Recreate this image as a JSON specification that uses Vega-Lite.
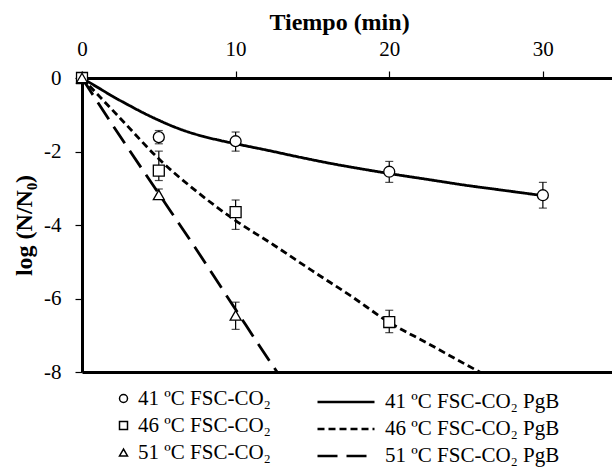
{
  "$schema": "https://vega.github.io/schema/vega-lite/v6.json",
  "width": 530,
  "height": 294,
  "autosize": {"type": "none"},
  "padding": {"left": 82, "top": 78, "right": 0, "bottom": 95},
  "background": "white",
  "config": {
    "view": {"stroke": null},
    "font": "Liberation Serif",
    "axis": {"grid": false, "domainColor": "black", "tickColor": "black", "labelColor": "black", "titleColor": "black", "labelFlush": false},
    "legend": {"padding": 0, "offset": 0}
  },
  "datasets": {
    "curves": [
      {"s": "41 ºC FSC-CO₂ PgB", "t": 0, "v": 0},
      {"s": "41 ºC FSC-CO₂ PgB", "t": 1, "v": -0.25},
      {"s": "41 ºC FSC-CO₂ PgB", "t": 2, "v": -0.5},
      {"s": "41 ºC FSC-CO₂ PgB", "t": 3, "v": -0.73},
      {"s": "41 ºC FSC-CO₂ PgB", "t": 4, "v": -0.95},
      {"s": "41 ºC FSC-CO₂ PgB", "t": 5, "v": -1.15},
      {"s": "41 ºC FSC-CO₂ PgB", "t": 6, "v": -1.33},
      {"s": "41 ºC FSC-CO₂ PgB", "t": 7, "v": -1.48},
      {"s": "41 ºC FSC-CO₂ PgB", "t": 8, "v": -1.6},
      {"s": "41 ºC FSC-CO₂ PgB", "t": 9, "v": -1.7},
      {"s": "41 ºC FSC-CO₂ PgB", "t": 10, "v": -1.79},
      {"s": "41 ºC FSC-CO₂ PgB", "t": 12, "v": -1.96},
      {"s": "41 ºC FSC-CO₂ PgB", "t": 14, "v": -2.14},
      {"s": "41 ºC FSC-CO₂ PgB", "t": 16, "v": -2.31},
      {"s": "41 ºC FSC-CO₂ PgB", "t": 18, "v": -2.46},
      {"s": "41 ºC FSC-CO₂ PgB", "t": 20, "v": -2.6},
      {"s": "41 ºC FSC-CO₂ PgB", "t": 22.5, "v": -2.76},
      {"s": "41 ºC FSC-CO₂ PgB", "t": 25, "v": -2.92},
      {"s": "41 ºC FSC-CO₂ PgB", "t": 27.5, "v": -3.06},
      {"s": "41 ºC FSC-CO₂ PgB", "t": 30, "v": -3.2},
      {"s": "46 ºC FSC-CO₂ PgB", "t": 0, "v": 0},
      {"s": "46 ºC FSC-CO₂ PgB", "t": 2.5, "v": -1.1},
      {"s": "46 ºC FSC-CO₂ PgB", "t": 5, "v": -2.2},
      {"s": "46 ºC FSC-CO₂ PgB", "t": 7.5, "v": -3.1},
      {"s": "46 ºC FSC-CO₂ PgB", "t": 10, "v": -3.88},
      {"s": "46 ºC FSC-CO₂ PgB", "t": 12.5, "v": -4.55},
      {"s": "46 ºC FSC-CO₂ PgB", "t": 15, "v": -5.25},
      {"s": "46 ºC FSC-CO₂ PgB", "t": 17.5, "v": -5.93},
      {"s": "46 ºC FSC-CO₂ PgB", "t": 20, "v": -6.65},
      {"s": "46 ºC FSC-CO₂ PgB", "t": 22.5, "v": -7.22},
      {"s": "46 ºC FSC-CO₂ PgB", "t": 25, "v": -7.8},
      {"s": "46 ºC FSC-CO₂ PgB", "t": 27, "v": -8.25},
      {"s": "51 ºC FSC-CO₂ PgB", "t": 0, "v": 0},
      {"s": "51 ºC FSC-CO₂ PgB", "t": 2.5, "v": -1.6},
      {"s": "51 ºC FSC-CO₂ PgB", "t": 5, "v": -3.15},
      {"s": "51 ºC FSC-CO₂ PgB", "t": 7.5, "v": -4.7},
      {"s": "51 ºC FSC-CO₂ PgB", "t": 10, "v": -6.3},
      {"s": "51 ºC FSC-CO₂ PgB", "t": 12.7, "v": -8.0},
      {"s": "51 ºC FSC-CO₂ PgB", "t": 13.2, "v": -8.3}
    ],
    "pts": [
      {"s": "41 ºC FSC-CO₂", "t": 0, "v": 0},
      {"s": "41 ºC FSC-CO₂", "t": 5, "v": -1.61, "lo": -1.79, "hi": -1.43},
      {"s": "41 ºC FSC-CO₂", "t": 10, "v": -1.72, "lo": -1.99, "hi": -1.47},
      {"s": "41 ºC FSC-CO₂", "t": 20, "v": -2.55, "lo": -2.84, "hi": -2.27},
      {"s": "41 ºC FSC-CO₂", "t": 30, "v": -3.19, "lo": -3.54, "hi": -2.84},
      {"s": "46 ºC FSC-CO₂", "t": 0, "v": 0},
      {"s": "46 ºC FSC-CO₂", "t": 5, "v": -2.52, "lo": -2.79, "hi": -1.99},
      {"s": "46 ºC FSC-CO₂", "t": 10, "v": -3.65, "lo": -4.12, "hi": -3.32},
      {"s": "46 ºC FSC-CO₂", "t": 20, "v": -6.64, "lo": -6.93, "hi": -6.32},
      {"s": "51 ºC FSC-CO₂", "t": 0, "v": 0},
      {"s": "51 ºC FSC-CO₂", "t": 5, "v": -3.18, "lo": -3.3, "hi": -3.02},
      {"s": "51 ºC FSC-CO₂", "t": 10, "v": -6.46, "lo": -6.84, "hi": -6.1}
    ]
  },
  "resolve": {"axis": {"x": "independent"}},
  "layer": [
    {
      "data": {"name": "pts"},
      "mark": {"type": "rule", "color": "black", "strokeWidth": 1.2},
      "encoding": {
        "x": {"field": "t", "type": "quantitative", "scale": {"domain": [0, 34.5], "nice": false, "zero": false}, "axis": null},
        "y": {"field": "lo", "type": "quantitative", "scale": {"domain": [-8, 0], "nice": false}},
        "y2": {"field": "hi"}
      }
    },
    {
      "data": {"name": "pts"},
      "mark": {"type": "tick", "orient": "horizontal", "color": "black", "size": 8, "thickness": 1.2},
      "encoding": {
        "x": {"field": "t", "type": "quantitative", "axis": null},
        "y": {"field": "lo", "type": "quantitative"}
      }
    },
    {
      "data": {"name": "pts"},
      "mark": {"type": "tick", "orient": "horizontal", "color": "black", "size": 8, "thickness": 1.2},
      "encoding": {
        "x": {"field": "t", "type": "quantitative", "axis": null},
        "y": {"field": "hi", "type": "quantitative"}
      }
    },
    {
      "data": {"name": "curves"},
      "mark": {"type": "line", "color": "black", "strokeWidth": 2.8, "interpolate": "monotone", "clip": true},
      "encoding": {
        "x": {"field": "t", "type": "quantitative",
          "axis": {"orient": "top", "values": [0, 10, 20, 30], "title": "Tiempo (min)", "titleFont": "Liberation Serif", "titleFontSize": 24, "titleFontWeight": "bold", "titlePadding": 4, "titleX": 257,
            "labelFont": "Liberation Serif", "labelFontSize": 21, "labelPadding": 12, "tickSize": 7, "tickWidth": 1.2, "domainWidth": 3}},
        "y": {"field": "v", "type": "quantitative",
          "axis": {"values": [-8, -6, -4, -2, 0], "title": "log (N/N₀)", "titleFont": "Liberation Serif", "titleFontSize": 24, "titleFontWeight": "bold", "titlePadding": 7,
            "labelFont": "Liberation Serif", "labelFontSize": 21, "labelPadding": 14, "tickSize": 7, "tickWidth": 1.2, "domainWidth": 3,
            "labelExpr": "datum.value < 0 ? '-' + format(-datum.value, 'd') : format(datum.value, 'd')"}},
        "strokeDash": {"field": "s", "type": "nominal",
          "scale": {"domain": ["41 ºC FSC-CO₂ PgB", "46 ºC FSC-CO₂ PgB", "51 ºC FSC-CO₂ PgB"], "range": [[1, 0], [7, 4], [20, 9]]},
          "legend": {"title": null, "orient": "none", "legendX": 253, "legendY": 313, "symbolType": "M-3,0H3", "symbolSize": 361, "symbolStrokeWidth": 2.5, "symbolStrokeColor": "black",
            "labelFont": "Liberation Serif", "labelFontSize": 21, "labelColor": "black", "labelOffset": 28, "labelLimit": 400, "rowPadding": 6}},
        "detail": {"field": "s"}
      }
    },
    {
      "data": {"name": "pts"},
      "mark": {"type": "point", "fill": "white", "stroke": "black", "strokeWidth": 1.3, "opacity": 1, "size": 120},
      "encoding": {
        "x": {"field": "t", "type": "quantitative",
          "axis": {"orient": "bottom", "labels": false, "ticks": false, "title": null, "domainWidth": 3, "values": [0, 10, 20, 30]}},
        "y": {"field": "v", "type": "quantitative"},
        "shape": {"field": "s", "type": "nominal",
          "scale": {"domain": ["41 ºC FSC-CO₂", "46 ºC FSC-CO₂", "51 ºC FSC-CO₂"], "range": ["circle", "square", "triangle-up"]},
          "legend": {"title": null, "orient": "none", "legendX": 31, "legendY": 310, "symbolSize": 64,
            "labelFont": "Liberation Serif", "labelFontSize": 21, "labelColor": "black", "labelOffset": 4, "labelLimit": 400, "rowPadding": 5,
            "encode": {"symbols": {"update": {"fill": {"value": "white"}, "stroke": {"value": "black"}, "strokeWidth": {"value": 1.5}, "opacity": {"value": 1}}}}}}
      }
    }
  ]
}
